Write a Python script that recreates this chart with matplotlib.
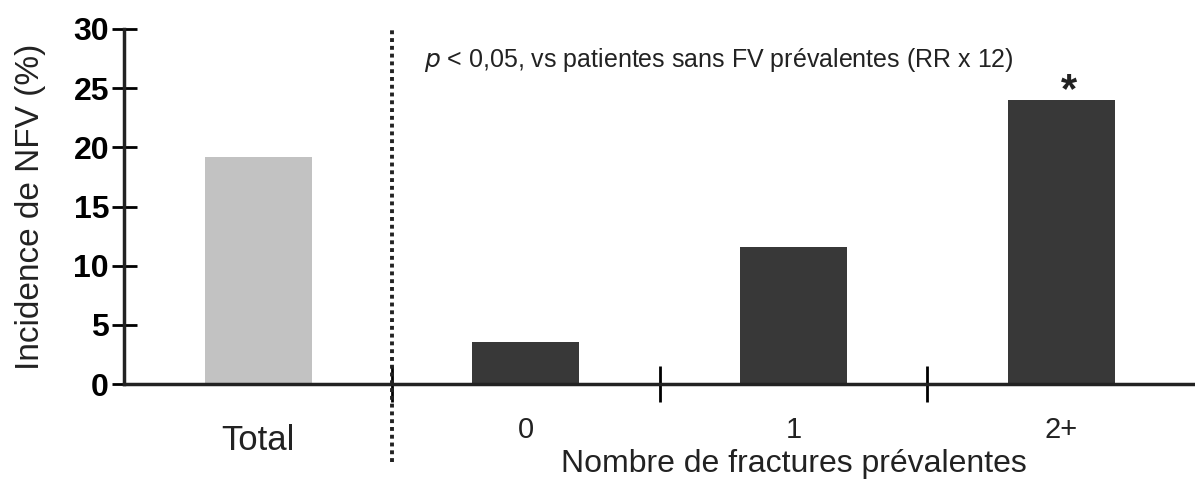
import numpy as np
import matplotlib
matplotlib.use("Agg")
import matplotlib.pyplot as plt
from matplotlib.transforms import blended_transform_factory

plt.rcParams['font.family'] = ['Liberation Sans', 'DejaVu Sans']

categories = ['Total', '0', '1', '2+']
values = [19.2, 3.55, 11.6, 24.0]
colors = ['#c2c2c2', '#383838', '#383838', '#383838']
yticks = [0, 5, 10, 15, 20, 25, 30]

fig = plt.figure(figsize=(11.95, 4.82), dpi=100)
ax = fig.add_axes([0.104, 0.203, 0.896, 0.737])

x = np.arange(len(categories))
ax.bar(x, values, width=0.4, color=colors, zorder=2)

ax.set_xlim(-0.5, 3.5)
ax.set_ylim(0, 30)
ax.set_yticks(yticks)
ax.set_yticklabels([str(t) for t in yticks], fontsize=23, fontweight='bold')
ax.tick_params(axis='y', direction='inout', length=18, width=2, pad=2)

# separators between categories
ax.set_xticks([0.5, 1.5, 2.5])
ax.set_xticklabels([])
ax.tick_params(axis='x', direction='inout', length=26, width=2)

for s in ['top', 'right']:
    ax.spines[s].set_visible(False)
for s in ['left', 'bottom']:
    ax.spines[s].set_linewidth(2.5)
    ax.spines[s].set_color('#222222')

# category labels
trans = blended_transform_factory(ax.transData, ax.transAxes)
for i, c in enumerate(categories):
    if i == 0:
        ax.text(x[i], -0.16, c, transform=trans, ha='center', va='center',
                fontsize=25, color='#222222')
    else:
        ax.text(x[i], -0.13, c, transform=trans, ha='center', va='center',
                fontsize=21, color='#222222')

ax.text(2, -0.225, 'Nombre de fractures prévalentes', transform=trans,
        ha='center', va='center', fontsize=23, color='#222222')

ax.set_ylabel('Incidence de NFV (%)', fontsize=24, color='#222222', labelpad=20)

# dotted separator
ax.plot([0.5, 0.5], [-0.22, 1.0], transform=trans, color='#222222',
        linestyle=(0, (1, 1.0)), linewidth=2.8, clip_on=False, zorder=3)

ax.text(0.62, 0.913, r'$p$ < 0,05, vs patientes sans FV prévalentes (RR x 12)',
        transform=trans, ha='left', va='center', fontsize=18, color='#222222')
ax.text(x[3] + 0.03, values[3] - 0.2, '*', ha='center', va='baseline',
        fontsize=30, fontweight='bold', color='#222222')

fig.savefig('out.png', dpi=100)
